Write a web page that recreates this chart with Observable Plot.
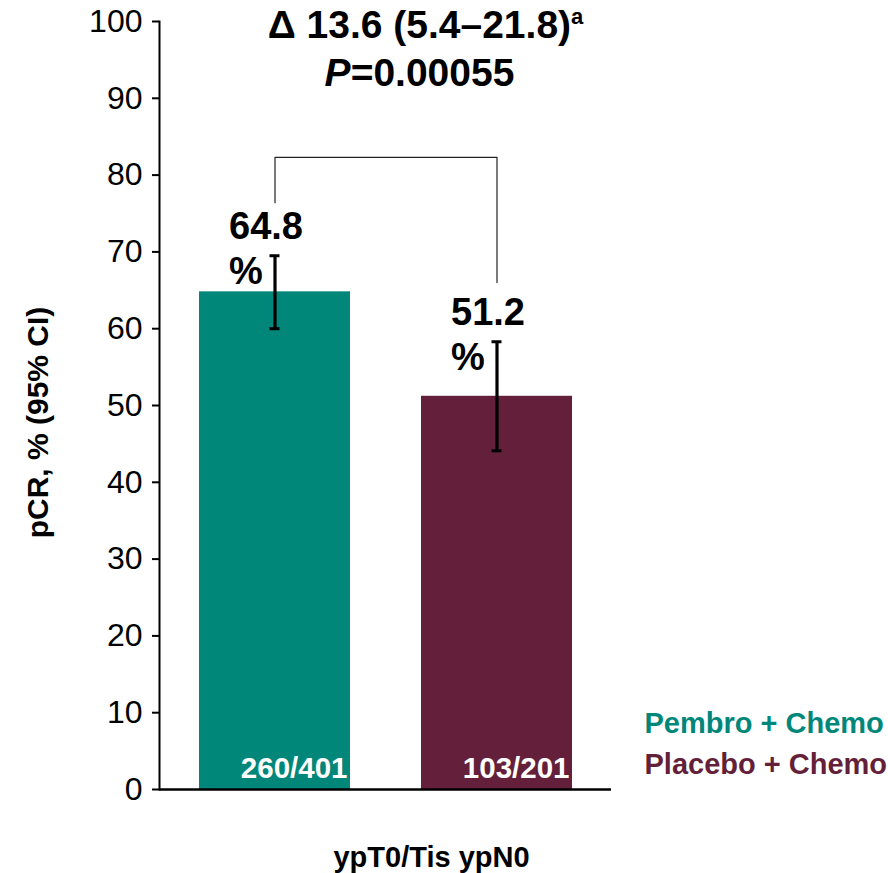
<!DOCTYPE html>
<html>
<head>
<meta charset="utf-8">
<script src="https://cdn.jsdelivr.net/npm/d3@7"></script>
<script src="https://cdn.jsdelivr.net/npm/@observablehq/plot@0.6"></script>
<style>
  html, body { margin: 0; padding: 0; background: #fff; }
</style>
</head>
<body>
<div id="chart"></div>
<script>
// pCR by treatment arm (ypT0/Tis ypN0)
const groups = ["Pembro + Chemo", "Placebo + Chemo"];
const pcr = [64.8, 51.2];
const ciLow = [60.0, 44.1];
const ciHigh = [69.5, 58.3];
const responders = [260, 103];
const patients = [401, 201];
const colors = ["#00877a", "#641f3a"];
const yTicks = [0, 10, 20, 30, 40, 50, 60, 70, 80, 90, 100];

// treatment difference shown above the comparison bracket
const delta = 13.6;
const deltaCI = [5.4, 21.8];
const pValue = "0.00055";
const footnoteMark = "a";
const bracketTop = 82.3;
const bracketEnds = [76.4, 66.0];

const xLabel = "ypT0/Tis ypN0";
const yLabel = "pCR, % (95% CI)";

const rows = groups.map((g, i) => ({
  group: g,
  pcr: pcr[i],
  lo: ciLow[i],
  hi: ciHigh[i],
  count: `${responders[i]}/${patients[i]}`
}));

const bracket = [
  {group: groups[0], y: bracketEnds[0]},
  {group: groups[0], y: bracketTop},
  {group: groups[1], y: bracketTop},
  {group: groups[1], y: bracketEnds[1]}
];

const title1 = `Δ ${delta} (${deltaCI[0]}–${deltaCI[1]})`;
const title2 = `P=${pValue}`;
const font = "'Liberation Sans', Arial, Helvetica, sans-serif";

const chart = Plot.plot({
  width: 888,
  height: 873,
  marginLeft: 159,
  marginRight: 277,
  marginTop: 21,
  marginBottom: 84,
  style: {fontFamily: font, background: "#fff", color: "#000"},
  x: {domain: groups, paddingInner: 0.32, paddingOuter: 0.175, axis: null},
  y: {domain: [0, 100]},
  color: {domain: groups, range: colors},
  marks: [
    Plot.barY(rows, {x: "group", y: "pcr", fill: "group"}),
    Plot.frame({anchor: "left", strokeWidth: 2, stroke: "#000"}),
    Plot.axisY({ticks: yTicks, tickSize: 7, tickPadding: 10, fontSize: 32, strokeWidth: 2, label: null}),
    Plot.ruleY([0], {strokeWidth: 2.5, stroke: "#000"}),
    // 95% CI whiskers with caps
    Plot.ruleX(rows, {x: "group", y1: "lo", y2: "hi", stroke: "#000", strokeWidth: 3.2}),
    Plot.tickY(rows, {x: "group", y: "lo", stroke: "#000", strokeWidth: 3, insetLeft: 70.5, insetRight: 70.5}),
    Plot.tickY(rows, {x: "group", y: "hi", stroke: "#000", strokeWidth: 3, insetLeft: 70.5, insetRight: 70.5}),
    // comparison bracket
    Plot.line(bracket, {x: "group", y: "y", stroke: "#222", strokeWidth: 1.2, curve: "linear"}),
    // value labels above each whisker
    Plot.text(rows, {
      x: "group", y: "hi", text: (d) => `${d.pcr}\n%`,
      textAnchor: "start", lineAnchor: "bottom", lineHeight: 45 / 38,
      dx: -46, dy: 28, fontSize: 38, fontWeight: "bold", fill: "#000"
    }),
    // responders / patients inside the bars
    Plot.text(rows, {
      x: "group", y: () => 0, text: "count",
      textAnchor: "end", lineAnchor: "bottom",
      dx: 72.5, dy: -12, fontSize: 29.5, fontWeight: "bold", fill: "#fff"
    }),
    // difference and p-value
    Plot.text([title1], {
      text: (d) => d, frameAnchor: "top", textAnchor: "middle", lineAnchor: "top",
      dx: 40, dy: -11.4, fontSize: 39, fontWeight: "bold", fill: "#000"
    }),
    Plot.text([title2], {
      text: (d) => d, frameAnchor: "top", textAnchor: "middle", lineAnchor: "top",
      dx: 34, dy: 37, fontSize: 39, fontWeight: "bold", fill: "#000"
    }),
    // axis titles
    Plot.text([xLabel], {
      text: (d) => d, frameAnchor: "bottom", textAnchor: "middle", lineAnchor: "bottom",
      dx: 46, dy: 77.5, fontSize: 29, fontWeight: "bold", fill: "#000"
    }),
    Plot.text([yLabel], {
      text: (d) => d, frameAnchor: "left", textAnchor: "middle", lineAnchor: "middle", rotate: -90,
      dx: -121, dy: 17, fontSize: 30, fontWeight: "bold", fill: "#000"
    }),
    // legend
    Plot.text([groups[0]], {
      text: (d) => d, frameAnchor: "bottom-right", textAnchor: "start", lineAnchor: "bottom",
      dx: 33, dy: -56.7, fontSize: 29, fontWeight: "bold", fill: colors[0]
    }),
    Plot.text([groups[1]], {
      text: (d) => d, frameAnchor: "bottom-right", textAnchor: "start", lineAnchor: "bottom",
      dx: 33, dy: -16, fontSize: 29, fontWeight: "bold", fill: colors[1]
    })
  ]
});

// superscript footnote marker and italic P
const ns = "http://www.w3.org/2000/svg";
for (const t of chart.querySelectorAll("text")) {
  if (t.textContent === title1) {
    const sup = document.createElementNS(ns, "tspan");
    sup.setAttribute("font-size", "22");
    sup.setAttribute("dy", "-14");
    sup.textContent = footnoteMark;
    t.appendChild(sup);
  } else if (t.textContent === title2) {
    t.textContent = "";
    const p = document.createElementNS(ns, "tspan");
    p.setAttribute("font-style", "italic");
    p.textContent = "P";
    const rest = document.createElementNS(ns, "tspan");
    rest.textContent = `=${pValue}`;
    t.appendChild(p);
    t.appendChild(rest);
  }
}

document.getElementById("chart").appendChild(chart);
</script>
</body>
</html>
